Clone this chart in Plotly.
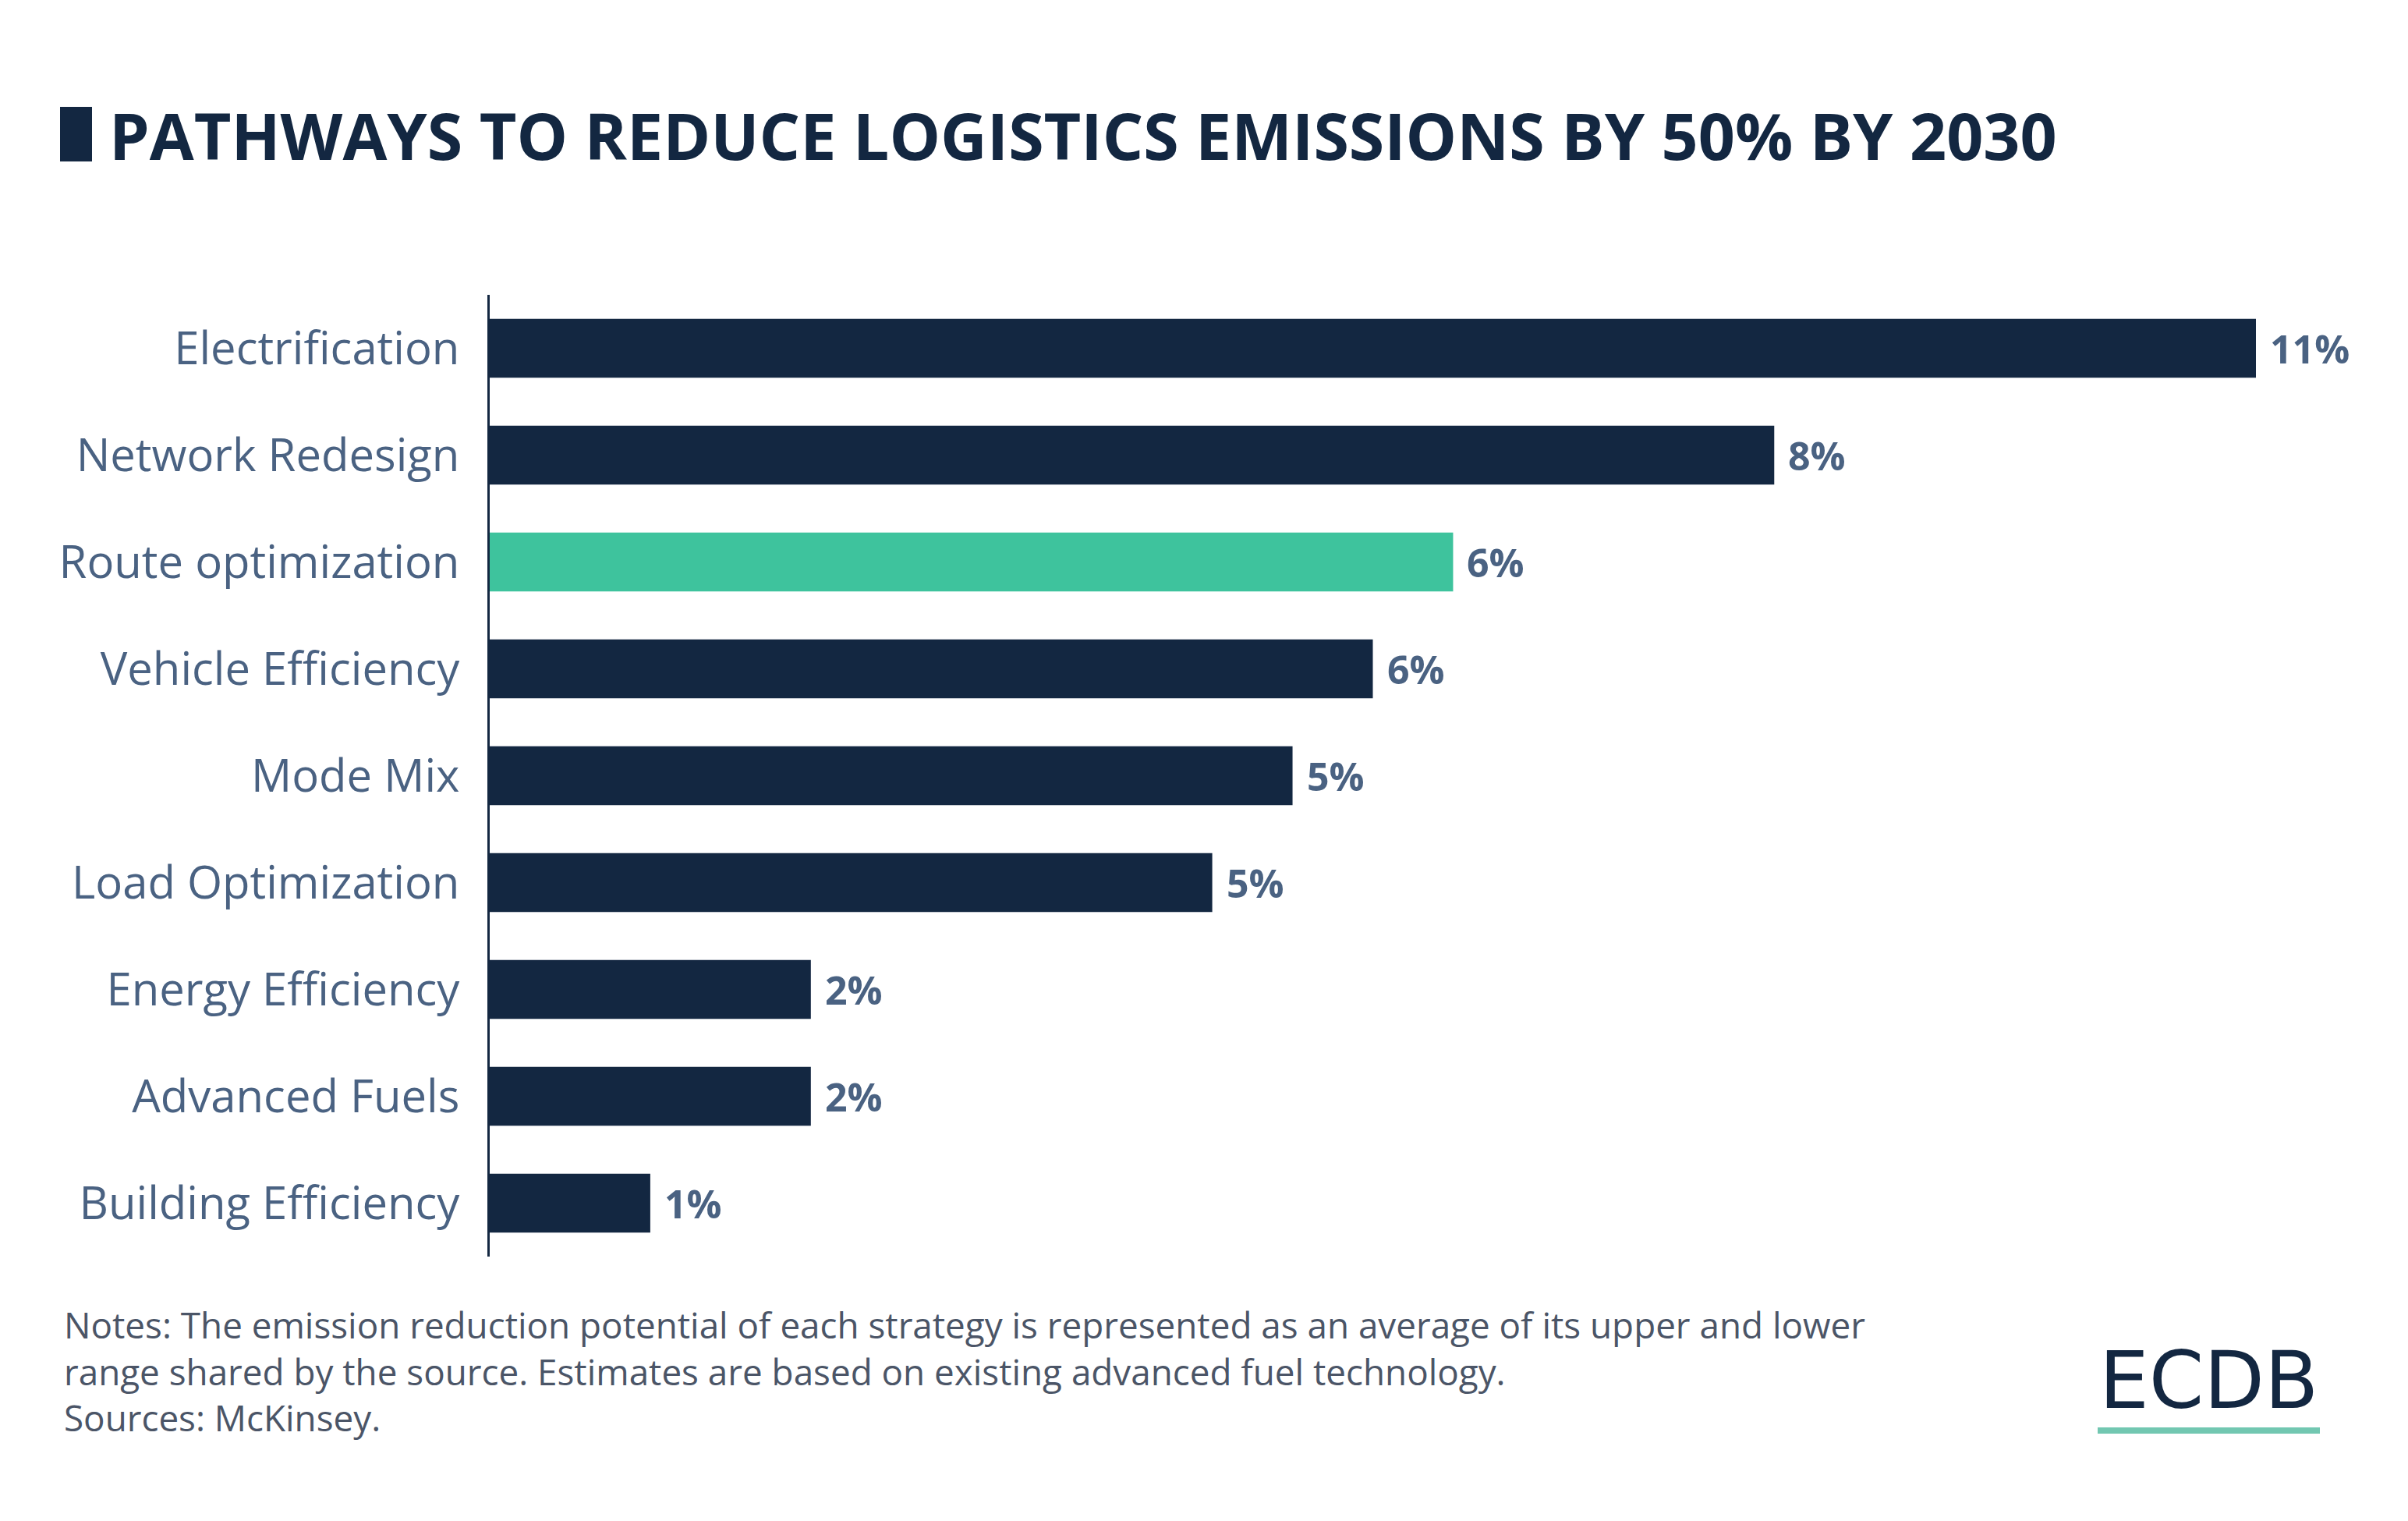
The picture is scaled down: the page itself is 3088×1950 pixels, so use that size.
import plotly.graph_objects as go

categories = ["Electrification", "Network Redesign", "Route optimization", "Vehicle Efficiency",
              "Mode Mix", "Load Optimization", "Energy Efficiency", "Advanced Fuels", "Building Efficiency"]
values = [11, 8, 6, 5.5, 5, 4.5, 2, 2, 1]
value_labels = ["11%", "8%", "6%", "6%", "5%", "5%", "2%", "2%", "1%"]
highlight = "Route optimization"
note_lines = [
    "Notes: The emission reduction potential of each strategy is represented as an average of its upper and lower",
    "range shared by the source. Estimates are based on existing advanced fuel technology.",
    "Sources: McKinsey.",
]

NAVY = "#132741"
GREEN = "#3ec39d"
SLATE = "#4a6282"
NOTE = "#4b5567"

W, H = 3088, 1950
OFF = 8  # browser body margin
L, R, T, B = 628, 3040, 378, 1611  # plot area in screenshot pixels

def px(x):
    return (x - L) / (R - L)

def py(y):
    return (B - y) / (B - T)

colors = [GREEN if c == highlight else NAVY for c in categories]

fig = go.Figure(go.Bar(
    x=values, y=categories, orientation="h",
    marker=dict(color=colors, line=dict(width=0)),
    hoverinfo="skip",
))

xmax = (R - L) / ((2893 - L) / 11)

annotations = []
for c, v, t in zip(categories, values, value_labels):
    annotations.append(dict(x=v, y=c, xref="x", yref="y", text=t, showarrow=False,
                            xanchor="left", yanchor="middle", xshift=16,
                            font=dict(family="Open Sans", size=50, color=SLATE, weight="bold")))

annotations.append(dict(x=px(138), y=py(173), xref="paper", yref="paper",
                        text="<b>PATHWAYS TO REDUCE LOGISTICS EMISSIONS BY 50% BY 2030</b>",
                        showarrow=False, xanchor="left", yanchor="middle",
                        font=dict(family="Open Sans", size=82.5, color=NAVY)))
annotations.append(dict(x=px(80), y=py(1757), xref="paper", yref="paper",
                        text="<br>".join(note_lines), showarrow=False,
                        xanchor="left", yanchor="middle", align="left",
                        font=dict(family="Open Sans", size=45.8, color=NOTE)))
annotations.append(dict(x=px(2832), y=py(1770), xref="paper", yref="paper",
                        text="ECDB", showarrow=False, xanchor="center", yanchor="middle",
                        font=dict(family="DejaVu Sans", size=101, color=NAVY)))

shapes = [
    dict(type="rect", xref="paper", yref="paper", x0=px(77), x1=px(118), y0=py(137), y1=py(207),
         fillcolor=NAVY, line=dict(width=0)),
    dict(type="line", xref="paper", yref="paper", x0=px(2690), x1=px(2975), y0=py(1834), y1=py(1834),
         line=dict(color="#72c7b1", width=8)),
]

fig.update_layout(
    width=W, height=H,
    margin=dict(l=L - OFF, r=W - R + OFF, t=T - OFF, b=H - B + OFF, pad=0),
    paper_bgcolor="white", plot_bgcolor="white",
    showlegend=False,
    bargap=0.45,
    annotations=annotations,
    shapes=shapes,
    xaxis=dict(range=[0, xmax], visible=False, fixedrange=True),
    yaxis=dict(autorange="reversed", showline=True, linecolor=NAVY, linewidth=3,
               showgrid=False, zeroline=False, ticks="", ticklabelstandoff=24,
               tickfont=dict(family="Open Sans", size=58, color=SLATE)),
)

fig.write_html("out.html")
